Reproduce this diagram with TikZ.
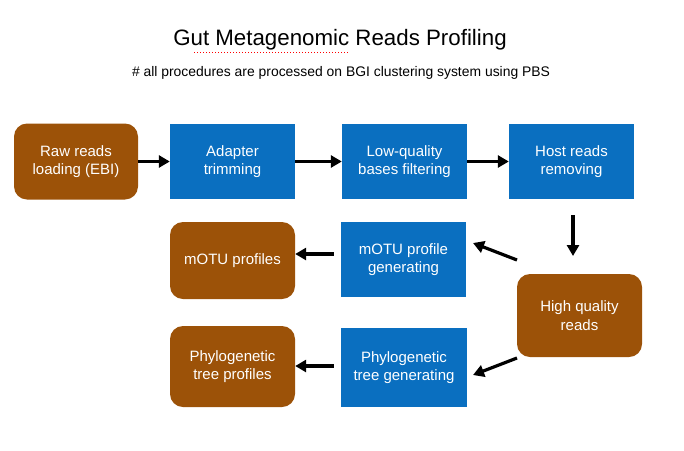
\documentclass[tikz,border=0pt]{standalone}
\usepackage{fontspec}
\setmainfont{Liberation Sans}
\usetikzlibrary{arrows.meta}
\definecolor{brownbox}{HTML}{9C5208}
\definecolor{bluebox}{HTML}{0A6FC0}
\tikzset{
  roundbox/.style={fill=brownbox, rounded corners=13pt, text=white, align=center, font=\fontsize{15}{18.5}\selectfont, inner sep=0pt},
  squarebox/.style={fill=bluebox, text=white, align=center, font=\fontsize{15}{18.5}\selectfont, inner sep=0pt},
  flow/.style={-{Triangle[length=11pt,width=12pt]}, line width=3.2pt, black}
}
\begin{document}
\begin{tikzpicture}[x=1pt,y=-1pt]
\useasboundingbox (0,0) rectangle (684,450);
\node[font=\fontsize{22.3}{26}\selectfont] (title) at (340,40) {Gut Metagenomic Reads Profiling};
\draw[red, line width=1pt, dotted] (194,52) -- (348,52);
\node[font=\fontsize{13.9}{16}\selectfont] (sub) at (341,73) {\# all procedures are processed on BGI clustering system using PBS};

\node[roundbox, minimum width=124pt, minimum height=76pt] (raw) at (76,161.5) {Raw reads\\loading (EBI)};
\node[squarebox, minimum width=125pt, minimum height=75pt] (adapt) at (232.5,161.5) {Adapter\\trimming};
\node[squarebox, minimum width=125pt, minimum height=75pt] (lowq) at (404.5,161.5) {Low-quality\\bases filtering};
\node[squarebox, minimum width=125pt, minimum height=75pt] (host) at (571.5,161.5) {Host reads\\removing};
\node[roundbox, minimum width=125pt, minimum height=83pt] (high) at (579.5,315.5) {High quality\\reads};
\node[squarebox, minimum width=125pt, minimum height=75pt] (motugen) at (403.5,259.5) {mOTU profile\\generating};
\node[squarebox, minimum width=126pt, minimum height=79pt] (phylogen) at (404,367.5) {Phylogenetic\\tree generating};
\node[roundbox, minimum width=125pt, minimum height=77pt] (motu) at (232.5,260.5) {mOTU profiles};
\node[roundbox, minimum width=125pt, minimum height=81pt] (phylo) at (232.5,366.5) {Phylogenetic\\tree profiles};

\coordinate (hostout) at (573,215);
\coordinate (hostin) at (573,256);
\coordinate (hu) at (517,260);
\coordinate (hd) at (517,358);
\draw[flow] (raw.east) -- (adapt.west);
\draw[flow] (adapt.east) -- (lowq.west);
\draw[flow] (lowq.east) -- (host.west);
\draw[flow] (hostout) -- (hostin);
\draw[flow] (hu) -- (473,243);
\draw[flow] (hd) -- (473,375);
\draw[flow] ([xshift=-7pt]motugen.west |- 0,254) -- (motu.east |- 0,254);
\draw[flow] ([xshift=-7pt]phylogen.west |- 0,366) -- (phylo.east |- 0,366);
\end{tikzpicture}
\end{document}
